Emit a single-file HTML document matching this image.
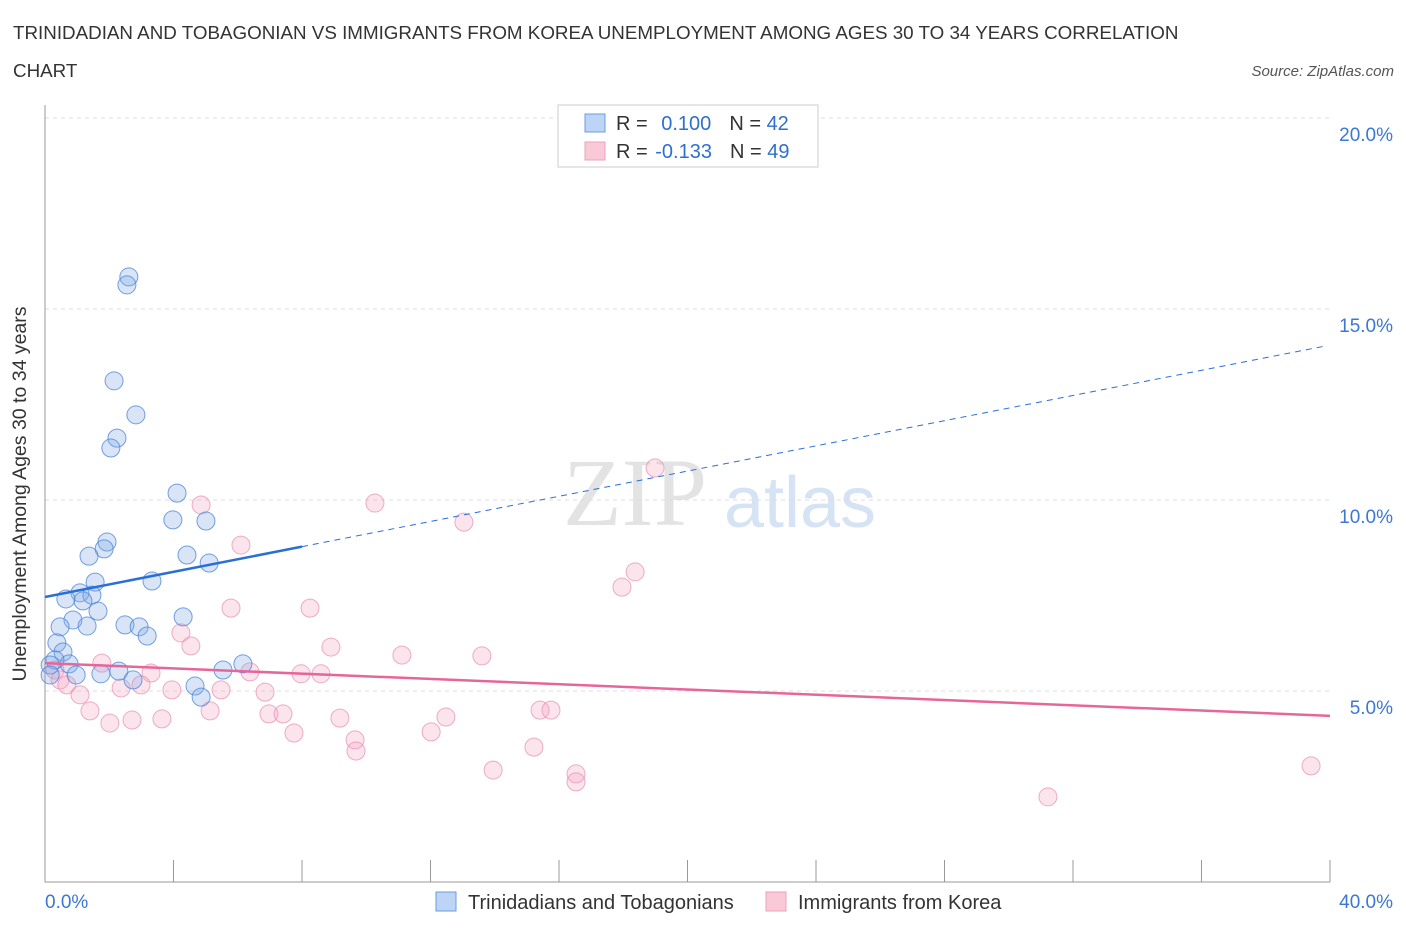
<!DOCTYPE html>
<html><head><meta charset="utf-8"><style>
body{margin:0;background:#fff;font-family:"Liberation Sans",sans-serif}
</style></head><body>
<svg width="1406" height="930" xmlns="http://www.w3.org/2000/svg">
<text x="13" y="39" font-size="18.8" fill="#333">TRINIDADIAN AND TOBAGONIAN VS IMMIGRANTS FROM KOREA UNEMPLOYMENT AMONG AGES 30 TO 34 YEARS CORRELATION</text>
<text x="13" y="77" font-size="18.8" fill="#333">CHART</text>
<text x="1394" y="76" font-size="15" fill="#555" font-style="italic" text-anchor="end">Source: ZipAtlas.com</text>
<g>
<text x="635" y="525" font-size="96" fill="#e3e3e3" font-family="Liberation Serif,serif" text-anchor="middle">ZIP</text>
<text x="800" y="527" font-size="72" fill="#d5e3f5" text-anchor="middle">atlas</text>
</g>
<g id="grid"></g>
<g id="axes"></g>
<g id="marks"></g>
<text x="26" y="494" font-size="19.5" fill="#333" text-anchor="middle" transform="rotate(-90 26 494)">Unemployment Among Ages 30 to 34 years</text>
<g>
<rect x="558" y="105" width="260" height="62" fill="#fff" stroke="#ccc"/>
<rect x="585" y="114" width="20" height="18" fill="#bcd4f5" stroke="#6d9be0"/>
<rect x="585" y="142" width="20" height="18" fill="#f9c9d8" stroke="#eea0ba"/>
<text x="616" y="130" font-size="20" fill="#333">R = <tspan fill="#2f6fd0" dx="8">0.100</tspan><tspan dx="18" fill="#333">N = </tspan><tspan fill="#2f6fd0">42</tspan></text>
<text x="616" y="158" font-size="20" fill="#333">R = <tspan fill="#2f6fd0" dx="2">-0.133</tspan><tspan dx="18" fill="#333">N = </tspan><tspan fill="#2f6fd0">49</tspan></text>
</g>
<g>
<rect x="436" y="892" width="20" height="19" fill="#bcd4f5" stroke="#6d9be0"/>
<text x="468" y="909" font-size="20" fill="#333">Trinidadians and Tobagonians</text>
<rect x="766" y="892" width="20" height="19" fill="#f9c9d8" stroke="#eea0ba"/>
<text x="798" y="909" font-size="20" fill="#333">Immigrants from Korea</text>
</g>
</svg>
<script>
const blueX=[2.61,2.55,2.15,2.83,2.24,2.05,4.11,3.98,5.01,4.42,5.11,1.93,1.84,1.37,3.33,1.56,1.09,1.46,1.18,0.65,1.65,4.30,0.87,0.47,1.31,2.49,2.93,3.18,0.37,0.56,0.75,0.31,0.16,0.97,1.74,2.30,2.74,4.67,4.86,5.54,6.16,0.16];
const blueY=[15.84,15.63,13.12,12.23,11.62,11.36,10.18,9.48,9.45,8.56,8.35,8.90,8.72,8.53,7.88,7.85,7.57,7.51,7.36,7.41,7.09,6.94,6.86,6.68,6.70,6.73,6.68,6.44,6.26,6.02,5.71,5.81,5.68,5.42,5.45,5.52,5.29,5.13,4.84,5.55,5.71,5.42];
const pinkX=[18.99,10.27,13.04,4.86,6.10,18.37,17.96,5.79,8.25,4.23,4.54,8.90,11.11,13.60,1.77,3.30,6.38,7.97,8.59,0.31,0.47,0.68,1.09,2.37,2.99,3.95,5.48,6.85,1.40,5.14,2.02,2.71,3.64,6.97,7.41,9.18,12.48,15.41,15.75,7.75,12.02,9.65,9.68,15.22,13.95,16.53,16.53,31.22,39.41];
const pinkY=[10.84,9.92,9.42,9.87,8.82,8.12,7.72,7.17,7.17,6.52,6.18,6.15,5.94,5.92,5.73,5.47,5.50,5.45,5.45,5.55,5.29,5.16,4.90,5.08,5.16,5.03,5.03,4.97,4.48,4.48,4.16,4.24,4.27,4.40,4.40,4.29,4.32,4.50,4.50,3.90,3.93,3.72,3.43,3.53,2.93,2.83,2.62,2.23,3.04];
const blueTrend=[7.46,14.03];
const pinkTrend=[5.73,4.35];
const yTicks=[5,10,15,20];
const yTickLabels=["5.0%","10.0%","15.0%","20.0%"];
const xTicks=[0,4,8,12,16,20,24,28,32,36,40];
const NS="http://www.w3.org/2000/svg";
const sx=v=>45+v/40*1285, sy=v=>882-v/5*191;
function mk(p,t,a){const e=document.createElementNS(NS,t);for(const k in a)e.setAttribute(k,a[k]);p.appendChild(e);return e;}
const grid=document.getElementById('grid'),axes=document.getElementById('axes'),marks=document.getElementById('marks');
yTicks.forEach((v,i)=>{
 const l=mk(grid,'line',{x1:45,x2:1330,y1:sy(v),y2:sy(v),stroke:'#ddd','stroke-dasharray':'4,4'});
 
 
 const t=mk(axes,'text',{x:1393,y:sy(v)+23,'font-size':19,fill:'#3a78d4','text-anchor':'end'});
 t.textContent=yTickLabels[i];
 
 
});
const ax=mk(axes,'path',{d:'M45,105V882H1330',stroke:'#999',fill:'none'});


xTicks.forEach(v=>{
 const l=mk(axes,'line',{x1:sx(v),x2:sx(v),y1:860,y2:882,stroke:'#999'});
 
 
});
[[0,'0.0%','start',45],[40,'40.0%','end',1393]].forEach(a=>{
 const t=mk(axes,'text',{x:a[3],y:908,'font-size':19,fill:'#3a78d4','text-anchor':a[2]});
 t.textContent=a[1];
 
 
});
function dot(x,y,f,s,n){const c=mk(marks,'circle',{cx:sx(x),cy:sy(y),r:9,fill:f,stroke:s,'stroke-width':1});
 
 }
pinkX.forEach((x,i)=>dot(x,pinkY[i],'rgba(244,165,195,0.3)','rgba(230,140,175,0.7)','point-korea'));
blueX.forEach((x,i)=>dot(x,blueY[i],'rgba(130,170,230,0.3)','rgba(70,130,215,0.75)','point-trinidad'));
const bAt=v=>blueTrend[0]+(blueTrend[1]-blueTrend[0])*v/39.85;
let l=mk(marks,'line',{x1:sx(0),y1:sy(bAt(0)),x2:sx(8),y2:sy(bAt(8)),stroke:'#2a6fd6','stroke-width':2.5});


l=mk(marks,'line',{x1:sx(8),y1:sy(bAt(8)),x2:sx(39.85),y2:sy(blueTrend[1]),stroke:'#2a6fd6','stroke-width':1,'stroke-dasharray':'6,5'});


l=mk(marks,'line',{x1:sx(0),y1:sy(pinkTrend[0]),x2:sx(40),y2:sy(pinkTrend[1]),stroke:'#e7669a','stroke-width':2.5});


</script>
</body></html>
